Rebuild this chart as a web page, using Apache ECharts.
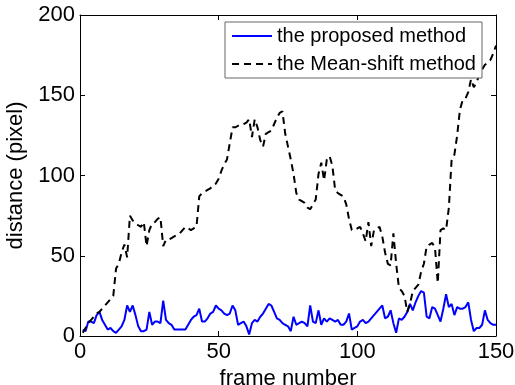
<!DOCTYPE html>
<html>
<head>
<meta charset="utf-8">
<script src="https://cdn.jsdelivr.net/npm/echarts@6/dist/echarts.min.js"></script>
<style>
  html, body { margin: 0; padding: 0; background: #fff; }
  #chart { width: 515px; height: 385px; }
</style>
</head>
<body>
<div id="chart"></div>
<script>
// frame numbers 1..150
var frames = [];
for (var i = 1; i <= 150; i++) frames.push(i);

// distance of the proposed method (blue, solid)
var proposed = [
  4, 3, 9, 9, 8, 13, 15, 10, 7, 4,
  5, 3, 2, 4, 6, 10, 19, 15, 19, 13,
  6, 3, 3, 4, 15, 7, 9, 9, 8, 22,
  10, 8, 7, 4, 4, 4, 4, 4, 7, 10,
  12, 13, 17, 9, 9, 11, 14, 15, 19, 17,
  16, 14, 13, 14, 19, 16, 7, 8, 9, 6,
  1, 8, 10, 9, 12, 14, 17, 20, 19, 15,
  11, 10, 8, 7, 6, 3, 12, 7, 8, 9,
  8, 6, 19, 9, 8, 16, 7, 11, 9, 11,
  10, 9, 10, 7, 7, 9, 14, 4, 5, 6,
  9, 10, 8, 9, 11, 13, 15, 17, 19, 11,
  12, 16, 8, 2, 11, 10, 12, 15, 20, 16,
  21, 25, 28, 27, 12, 11, 18, 17, 13, 9,
  17, 26, 18, 20, 13, 18, 17, 17, 18, 21,
  10, 3, 5, 5, 7, 16, 10, 8, 7, 7
];

// distance of the Mean-shift method (black, dashed)
var meanShift = [
  2, 5, 8, 10, 12, 14, 15, 17, 19, 21,
  23, 25, 42, 45, 52, 57, 49, 75, 72, 70,
  69, 68, 71, 56, 66, 70, 71, 73, 74, 56,
  60, 60, 61, 62, 63, 64, 66, 68, 67, 66,
  67, 68, 87, 89, 90, 91, 92, 94, 95, 98,
  103, 107, 110, 120, 130, 130, 131, 131, 132, 133,
  135, 124, 135, 130, 122, 118, 126, 127, 128, 132,
  136, 139, 140, 126, 118, 110, 101, 89, 85, 84,
  83, 80, 79, 82, 85, 101, 108, 97, 110, 112,
  106, 91, 89, 88, 87, 82, 73, 66, 66, 67,
  68, 64, 59, 71, 56, 66, 67, 68, 62, 52,
  45, 44, 64, 45, 30, 28, 25, 15, 20, 28,
  30, 32, 40, 45, 56, 57, 58, 55, 33, 66,
  67, 66, 80, 110, 113, 125, 141, 147, 148, 152,
  160, 155, 158, 163, 166, 169, 170, 172, 176, 181
];

function pairs(vals) {
  return frames.map(function (f, k) { return [f, vals[k]]; });
}

var font = 'Liberation Sans, Arial, sans-serif';
var chart = echarts.init(document.getElementById('chart'));

var tickCommon = {
  show: true, inside: true, length: 5,
  lineStyle: { color: '#000', width: 1 }
};
var axisLineCommon = { show: true, onZero: false, lineStyle: { color: '#000', width: 1 } };

chart.setOption({
  animation: false,
  backgroundColor: '#fff',
  grid: { left: 80, right: 19, top: 15, bottom: 49, containLabel: false, outerBoundsMode: 'none' },
  legend: {
    show: true,
    orient: 'vertical',
    left: 225,
    top: 22,
    itemWidth: 40,
    itemHeight: 14,
    itemGap: 8,
    padding: [4, 6, 4, 6],
    borderColor: '#666',
    borderWidth: 1,
    borderRadius: 0,
    backgroundColor: '#fff',
    itemStyle: { color: 'rgba(0,0,0,0)', borderWidth: 0 },
    textStyle: { fontFamily: font, fontSize: 20, color: '#000' },
    data: ['the proposed method', 'the Mean-shift method']
  },
  xAxis: [{
    type: 'value',
    min: 0, max: 150, interval: 50,
    name: 'frame number',
    nameLocation: 'middle',
    nameGap: 26,
    nameTextStyle: { fontFamily: font, fontSize: 22, color: '#000' },
    axisLine: axisLineCommon,
    axisTick: tickCommon,
    axisLabel: { fontFamily: font, fontSize: 22, color: '#000', margin: 5 },
    splitLine: { show: false }
  }, {
    type: 'value',
    position: 'top',
    min: 0, max: 150, interval: 50,
    axisLine: axisLineCommon,
    axisTick: tickCommon,
    axisLabel: { show: false },
    splitLine: { show: false }
  }],
  yAxis: [{
    type: 'value',
    min: 0, max: 200, interval: 50,
    name: 'distance (pixel)',
    nameLocation: 'middle',
    nameGap: 45,
    nameTextStyle: { fontFamily: font, fontSize: 22, color: '#000' },
    axisLine: axisLineCommon,
    axisTick: tickCommon,
    axisLabel: { fontFamily: font, fontSize: 22, color: '#000', margin: 5 },
    splitLine: { show: false }
  }, {
    type: 'value',
    position: 'right',
    min: 0, max: 200, interval: 50,
    axisLine: axisLineCommon,
    axisTick: tickCommon,
    axisLabel: { show: false },
    splitLine: { show: false }
  }],
  series: [{
    name: 'the proposed method',
    type: 'line',
    data: pairs(proposed),
    symbol: 'none',
    itemStyle: { color: '#0000ff' },
    lineStyle: { color: '#0000ff', width: 2 }
  }, {
    name: 'the Mean-shift method',
    type: 'line',
    data: pairs(meanShift),
    symbol: 'none',
    itemStyle: { color: '#000' },
    lineStyle: { color: '#000', width: 2, type: [7, 5] }
  }]
});
</script>
</body>
</html>
